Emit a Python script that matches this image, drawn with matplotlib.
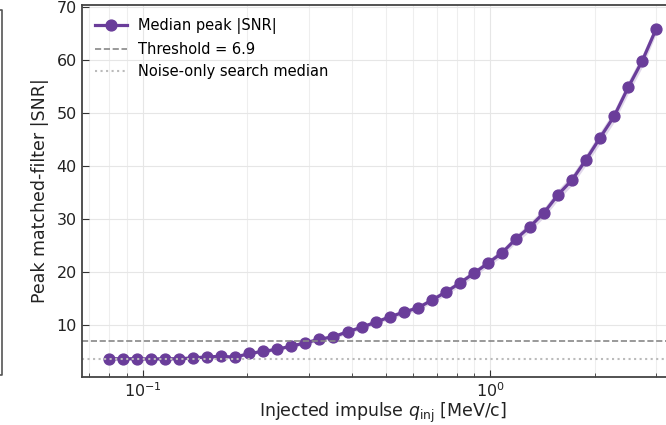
import numpy as np
import matplotlib
matplotlib.use("Agg")
import matplotlib.pyplot as plt
from matplotlib.lines import Line2D

# injected impulse grid (MeV/c), 40 log-spaced points
q_min = 0.08
q_max = 3.0
n_pts = 40

# median peak |SNR| per injected impulse
snr_med = [3.6, 3.6, 3.6, 3.55, 3.6, 3.6, 3.75, 3.95, 4.05, 3.9,
           4.6, 5.0, 5.4, 6.0, 6.6, 7.3, 7.75, 8.7, 9.55, 10.5,
           11.5, 12.4, 13.2, 14.65, 16.2, 17.9, 19.75, 21.65, 23.6, 26.25,
           28.55, 31.2, 34.6, 37.4, 41.25, 45.4, 49.45, 54.9, 59.9, 66.0]
# spread band (lower / upper)
snr_lo = [3.35, 3.35, 3.35, 3.3, 3.35, 3.35, 3.5, 3.7, 3.8, 3.65,
          4.3, 4.7, 5.1, 5.65, 6.25, 6.95, 7.35, 8.3, 9.1, 10.05,
          11.05, 11.9, 12.7, 14.1, 15.6, 17.3, 19.1, 21.0, 22.9, 25.5,
          27.7, 30.3, 33.6, 36.4, 40.2, 44.3, 48.3, 53.7, 58.7, 65.0]
snr_hi = [3.85, 3.85, 3.85, 3.8, 3.85, 3.85, 4.0, 4.2, 4.3, 4.15,
          4.9, 5.3, 5.7, 6.35, 6.95, 7.65, 8.15, 9.1, 10.0, 10.95,
          11.95, 12.9, 13.7, 15.2, 16.8, 18.5, 20.4, 22.3, 24.3, 27.0,
          29.4, 32.1, 35.6, 38.4, 42.3, 46.5, 50.6, 56.1, 61.1, 67.0]

threshold = 6.9
noise_median = 3.6

q = np.logspace(np.log10(q_min), np.log10(q_max), n_pts)

purple = "#6a3d9a"

fig = plt.figure(figsize=(6.66, 4.25), dpi=100)
ax = fig.add_axes([0.1225, 0.1136, 0.904, 0.8739])

ax.fill_between(q, snr_lo, snr_hi, color=purple, alpha=0.2, lw=0)
ax.plot(q, snr_med, "-o", color=purple, lw=2.3, ms=7.8, label="Median peak |SNR|")
ax.axhline(threshold, color="#888888", ls="--", lw=1.2, label=f"Threshold = {threshold}")
ax.axhline(noise_median, color="#bbbbbb", ls=":", lw=1.5, label="Noise-only search median")

ax.set_xscale("log")
ax.set_ylim(0.2, 70.4)
ax.set_yticks([10, 20, 30, 40, 50, 60, 70])

ax.grid(True, which="major", color="#e6e6e6", lw=0.8)
ax.grid(True, which="minor", axis="x", color="#eeeeee", lw=0.8)
ax.set_axisbelow(True)

ax.tick_params(which="both", direction="in", labelsize=11.5, colors="#333333", labelcolor="#222222")
ax.tick_params(which="major", length=5)
ax.tick_params(which="minor", length=3)
for s in ax.spines.values():
    s.set_color("#444444")
    s.set_linewidth(1.3)

ax.set_xlabel(r"Injected impulse $q_{\mathrm{inj}}$ [MeV/c]", fontsize=12.5, color="#222222", labelpad=0.5)
ax.set_ylabel("Peak matched-filter |SNR|", fontsize=12.5, color="#222222", labelpad=5)

ax.legend(loc="upper left", frameon=False, fontsize=10.5, handlelength=2.2)

# edge of neighbouring panel on the left
fig.add_artist(Line2D([0, 1.5 / 666, 1.5 / 666, 0], [1 - 10 / 425, 1 - 10 / 425, 1 - 375 / 425, 1 - 375 / 425],
                      transform=fig.transFigure, color="#555555", lw=1.2))

fig.savefig("out.png", dpi=100)
